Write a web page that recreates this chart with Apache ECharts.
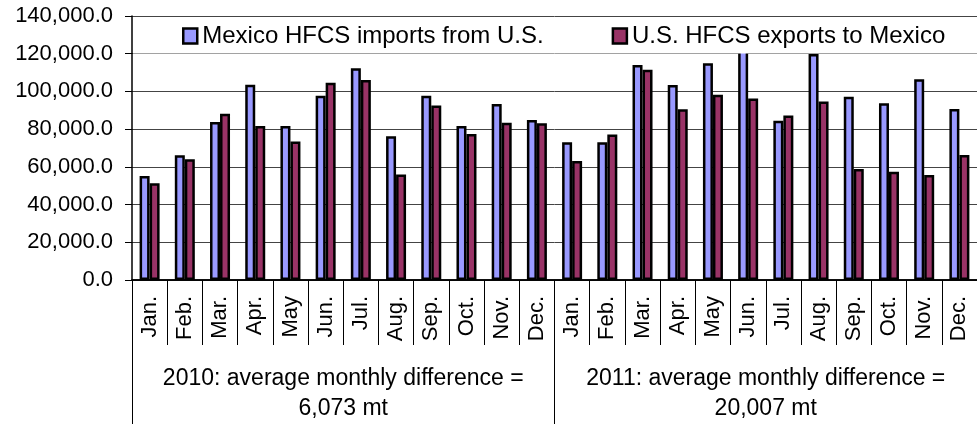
<!DOCTYPE html>
<html>
<head>
<meta charset="utf-8">
<script src="https://cdn.jsdelivr.net/npm/echarts@6/dist/echarts.min.js"></script>
<style>
  html, body { margin: 0; padding: 0; background: #fff; }
  #main { width: 977px; height: 424px; }
</style>
</head>
<body>
<div id="main"></div>
<script>
// months, two years side by side
var months = ['Jan.', 'Feb.', 'Mar.', 'Apr.', 'May', 'Jun.', 'Jul.', 'Aug.', 'Sep.', 'Oct.', 'Nov.', 'Dec.',
              'Jan.', 'Feb.', 'Mar.', 'Apr.', 'May', 'Jun.', 'Jul.', 'Aug.', 'Sep.', 'Oct.', 'Nov.', 'Dec.'];
var yearLabels = ['2010: average monthly difference =\n6,073 mt', '2011: average monthly difference =\n20,007 mt'];

// metric tons
var mexicoImports = [55200, 66100, 83800, 103600, 81700, 97700, 112300, 76200, 97700, 81700, 93300, 84800,
                     73000, 73000, 114000, 103400, 114900, 126500, 84500, 119800, 97200, 93700, 106400, 90700];
var usExports = [51300, 64000, 88200, 81700, 73400, 104600, 106100, 56000, 92600, 77400, 83400, 83100,
                 63100, 77100, 111500, 90500, 98300, 96200, 87300, 94700, 58900, 57400, 55700, 66300];

var font = "'Liberation Sans', Arial, sans-serif";

var myChart = echarts.init(document.getElementById('main'));
myChart.setOption({
  animation: false,
  textStyle: { fontFamily: font, color: '#000' },
  grid: { left: 132, right: -9, top: 16, bottom: 144 },
  // white legend box sits over the top band of the plot
  graphic: [{
    type: 'rect',
    z: 10,
    shape: { x: 133, y: 17, width: 844, height: 36.5 },
    style: { fill: '#fff' }
  }],
  legend: {
    z: 20,
    left: 182,
    top: 24,
    padding: 0,
    itemGap: 68,
    itemWidth: 14,
    itemHeight: 15,
    icon: 'rect',
    itemStyle: { borderColor: '#000', borderWidth: 2.5 },
    textStyle: { fontFamily: font, fontSize: 24, color: '#000' }
  },
  xAxis: [{
    type: 'category',
    data: months,
    position: 'bottom',
    axisLine: { show: true, lineStyle: { color: '#000', width: 1.5 } },
    axisTick: { show: true, interval: 0, length: 65, lineStyle: { color: '#000', width: 1 } },
    axisLabel: { interval: 0, rotate: 90, margin: 16, fontSize: 22, color: '#000', fontFamily: font }
  }, {
    type: 'category',
    data: yearLabels,
    position: 'bottom',
    axisLine: { show: true, lineStyle: { color: '#000', width: 1.5 } },
    axisTick: { show: true, interval: 0, length: 144, lineStyle: { color: '#000', width: 1 } },
    axisLabel: { interval: 0, margin: 84, fontSize: 23, lineHeight: 30, color: '#000', fontFamily: font }
  }],
  yAxis: {
    type: 'value',
    min: 0,
    max: 140000,
    interval: 20000,
    axisLine: { show: true, lineStyle: { color: '#000', width: 1.5 } },
    axisTick: { show: true, length: 7, lineStyle: { color: '#000' } },
    splitLine: { lineStyle: { color: '#444', width: 1 } },
    axisLabel: {
      margin: 19,
      fontSize: 22,
      color: '#000',
      fontFamily: font,
      formatter: function (v) {
        return v.toLocaleString('en-US', { minimumFractionDigits: 1, maximumFractionDigits: 1 });
      }
    }
  },
  series: [{
    name: 'Mexico HFCS imports from U.S.',
    type: 'bar',
    data: mexicoImports,
    barWidth: 10,
    barGap: '0%',
    itemStyle: { color: '#9999FF', borderColor: '#000', borderWidth: 2.5 }
  }, {
    name: 'U.S. HFCS exports to Mexico',
    type: 'bar',
    data: usExports,
    barWidth: 10,
    barGap: '0%',
    itemStyle: { color: '#993366', borderColor: '#000', borderWidth: 2.5 }
  }]
});
</script>
</body>
</html>
